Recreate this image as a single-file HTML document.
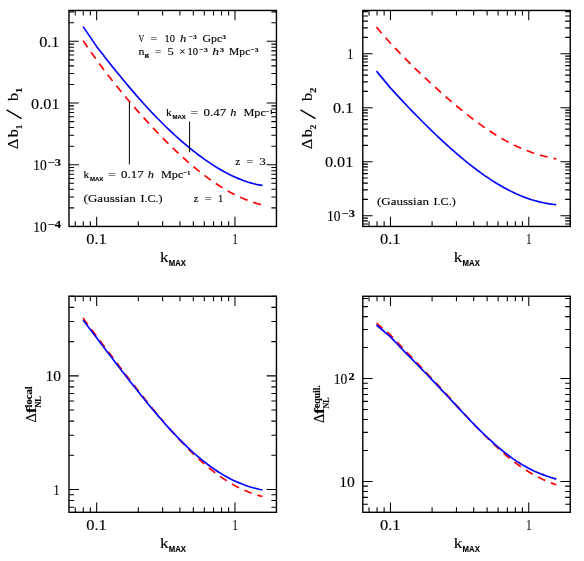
<!DOCTYPE html>
<html><head><meta charset="utf-8"><title>chart</title>
<style>html,body{margin:0;padding:0;background:#fff;}svg{display:block;font-family:"Liberation Serif", serif;fill:#000;will-change:transform}text{stroke:#000;stroke-width:0.12px}</style></head>
<body><svg width="584" height="561" viewBox="0 0 584 561">
<rect width="584" height="561" fill="#fff"/>
<path d="M75.24 226.45L75.24 221.35M75.24 10.45L75.24 15.55M83.26 226.45L83.26 221.35M83.26 10.45L83.26 15.55M90.33 226.45L90.33 221.35M90.33 10.45L90.33 15.55M96.66 226.45L96.66 216.65M96.66 10.45L96.66 20.25M138.29 226.45L138.29 221.35M138.29 10.45L138.29 15.55M162.65 226.45L162.65 221.35M162.65 10.45L162.65 15.55M179.92 226.45L179.92 221.35M179.92 10.45L179.92 15.55M193.33 226.45L193.33 221.35M193.33 10.45L193.33 15.55M204.28 226.45L204.28 221.35M204.28 10.45L204.28 15.55M213.54 226.45L213.54 221.35M213.54 10.45L213.54 15.55M221.56 226.45L221.56 221.35M221.56 10.45L221.56 15.55M228.63 226.45L228.63 221.35M228.63 10.45L228.63 15.55M234.96 226.45L234.96 216.65M234.96 10.45L234.96 20.25M69.00 226.45L78.80 226.45M276.45 226.45L266.65 226.45M69.00 207.87L74.10 207.87M276.45 207.87L271.35 207.87M69.00 197.00L74.10 197.00M276.45 197.00L271.35 197.00M69.00 189.29L74.10 189.29M276.45 189.29L271.35 189.29M69.00 183.31L74.10 183.31M276.45 183.31L271.35 183.31M69.00 178.43L74.10 178.43M276.45 178.43L271.35 178.43M69.00 174.30L74.10 174.30M276.45 174.30L271.35 174.30M69.00 170.72L74.10 170.72M276.45 170.72L271.35 170.72M69.00 167.56L74.10 167.56M276.45 167.56L271.35 167.56M69.00 164.74L78.80 164.74M276.45 164.74L266.65 164.74M69.00 146.16L74.10 146.16M276.45 146.16L271.35 146.16M69.00 135.29L74.10 135.29M276.45 135.29L271.35 135.29M69.00 127.58L74.10 127.58M276.45 127.58L271.35 127.58M69.00 121.60L74.10 121.60M276.45 121.60L271.35 121.60M69.00 116.71L74.10 116.71M276.45 116.71L271.35 116.71M69.00 112.58L74.10 112.58M276.45 112.58L271.35 112.58M69.00 109.00L74.10 109.00M276.45 109.00L271.35 109.00M69.00 105.85L74.10 105.85M276.45 105.85L271.35 105.85M69.00 103.02L78.80 103.02M276.45 103.02L266.65 103.02M69.00 84.44L74.10 84.44M276.45 84.44L271.35 84.44M69.00 73.58L74.10 73.58M276.45 73.58L271.35 73.58M69.00 65.87L74.10 65.87M276.45 65.87L271.35 65.87M69.00 59.88L74.10 59.88M276.45 59.88L271.35 59.88M69.00 55.00L74.10 55.00M276.45 55.00L271.35 55.00M69.00 50.87L74.10 50.87M276.45 50.87L271.35 50.87M69.00 47.29L74.10 47.29M276.45 47.29L271.35 47.29M69.00 44.13L74.10 44.13M276.45 44.13L271.35 44.13M69.00 41.31L78.80 41.31M276.45 41.31L266.65 41.31M69.00 22.73L74.10 22.73M276.45 22.73L271.35 22.73M69.00 11.86L74.10 11.86M276.45 11.86L271.35 11.86" stroke="#000" stroke-width="1.05" fill="none"/>
<rect x="69.00" y="10.45" width="207.45" height="216.00" fill="none" stroke="#000" stroke-width="1.4"/>
<path d="M369.04 226.45L369.04 221.35M369.04 10.45L369.04 15.55M377.06 226.45L377.06 221.35M377.06 10.45L377.06 15.55M384.13 226.45L384.13 221.35M384.13 10.45L384.13 15.55M390.46 226.45L390.46 216.65M390.46 10.45L390.46 20.25M432.09 226.45L432.09 221.35M432.09 10.45L432.09 15.55M456.45 226.45L456.45 221.35M456.45 10.45L456.45 15.55M473.72 226.45L473.72 221.35M473.72 10.45L473.72 15.55M487.13 226.45L487.13 221.35M487.13 10.45L487.13 15.55M498.08 226.45L498.08 221.35M498.08 10.45L498.08 15.55M507.34 226.45L507.34 221.35M507.34 10.45L507.34 15.55M515.36 226.45L515.36 221.35M515.36 10.45L515.36 15.55M522.43 226.45L522.43 221.35M522.43 10.45L522.43 15.55M528.76 226.45L528.76 216.65M528.76 10.45L528.76 20.25M362.80 224.01L367.90 224.01M570.25 224.01L565.15 224.01M362.80 220.88L367.90 220.88M570.25 220.88L565.15 220.88M362.80 218.12L367.90 218.12M570.25 218.12L565.15 218.12M362.80 215.65L372.60 215.65M570.25 215.65L560.45 215.65M362.80 199.39L367.90 199.39M570.25 199.39L565.15 199.39M362.80 189.89L367.90 189.89M570.25 189.89L565.15 189.89M362.80 183.14L367.90 183.14M570.25 183.14L565.15 183.14M362.80 177.91L367.90 177.91M570.25 177.91L565.15 177.91M362.80 173.63L367.90 173.63M570.25 173.63L565.15 173.63M362.80 170.01L367.90 170.01M570.25 170.01L565.15 170.01M362.80 166.88L367.90 166.88M570.25 166.88L565.15 166.88M362.80 164.12L367.90 164.12M570.25 164.12L565.15 164.12M362.80 161.65L372.60 161.65M570.25 161.65L560.45 161.65M362.80 145.39L367.90 145.39M570.25 145.39L565.15 145.39M362.80 135.89L367.90 135.89M570.25 135.89L565.15 135.89M362.80 129.14L367.90 129.14M570.25 129.14L565.15 129.14M362.80 123.91L367.90 123.91M570.25 123.91L565.15 123.91M362.80 119.63L367.90 119.63M570.25 119.63L565.15 119.63M362.80 116.01L367.90 116.01M570.25 116.01L565.15 116.01M362.80 112.88L367.90 112.88M570.25 112.88L565.15 112.88M362.80 110.12L367.90 110.12M570.25 110.12L565.15 110.12M362.80 107.65L372.60 107.65M570.25 107.65L560.45 107.65M362.80 91.39L367.90 91.39M570.25 91.39L565.15 91.39M362.80 81.89L367.90 81.89M570.25 81.89L565.15 81.89M362.80 75.14L367.90 75.14M570.25 75.14L565.15 75.14M362.80 69.91L367.90 69.91M570.25 69.91L565.15 69.91M362.80 65.63L367.90 65.63M570.25 65.63L565.15 65.63M362.80 62.01L367.90 62.01M570.25 62.01L565.15 62.01M362.80 58.88L367.90 58.88M570.25 58.88L565.15 58.88M362.80 56.12L367.90 56.12M570.25 56.12L565.15 56.12M362.80 53.65L372.60 53.65M570.25 53.65L560.45 53.65M362.80 37.39L367.90 37.39M570.25 37.39L565.15 37.39M362.80 27.89L367.90 27.89M570.25 27.89L565.15 27.89M362.80 21.14L367.90 21.14M570.25 21.14L565.15 21.14M362.80 15.91L367.90 15.91M570.25 15.91L565.15 15.91M362.80 11.63L367.90 11.63M570.25 11.63L565.15 11.63" stroke="#000" stroke-width="1.05" fill="none"/>
<rect x="362.80" y="10.45" width="207.45" height="216.00" fill="none" stroke="#000" stroke-width="1.4"/>
<path d="M75.24 512.30L75.24 507.20M75.24 296.25L75.24 301.35M83.26 512.30L83.26 507.20M83.26 296.25L83.26 301.35M90.33 512.30L90.33 507.20M90.33 296.25L90.33 301.35M96.66 512.30L96.66 502.50M96.66 296.25L96.66 306.05M138.29 512.30L138.29 507.20M138.29 296.25L138.29 301.35M162.65 512.30L162.65 507.20M162.65 296.25L162.65 301.35M179.92 512.30L179.92 507.20M179.92 296.25L179.92 301.35M193.33 512.30L193.33 507.20M193.33 296.25L193.33 301.35M204.28 512.30L204.28 507.20M204.28 296.25L204.28 301.35M213.54 512.30L213.54 507.20M213.54 296.25L213.54 301.35M221.56 512.30L221.56 507.20M221.56 296.25L221.56 301.35M228.63 512.30L228.63 507.20M228.63 296.25L228.63 301.35M234.96 512.30L234.96 502.50M234.96 296.25L234.96 306.05M69.00 507.17L74.10 507.17M276.45 507.17L271.35 507.17M69.00 500.58L74.10 500.58M276.45 500.58L271.35 500.58M69.00 494.76L74.10 494.76M276.45 494.76L271.35 494.76M69.00 489.56L78.80 489.56M276.45 489.56L266.65 489.56M69.00 455.33L74.10 455.33M276.45 455.33L271.35 455.33M69.00 435.30L74.10 435.30M276.45 435.30L271.35 435.30M69.00 421.10L74.10 421.10M276.45 421.10L271.35 421.10M69.00 410.08L74.10 410.08M276.45 410.08L271.35 410.08M69.00 401.07L74.10 401.07M276.45 401.07L271.35 401.07M69.00 393.46L74.10 393.46M276.45 393.46L271.35 393.46M69.00 386.87L74.10 386.87M276.45 386.87L271.35 386.87M69.00 381.05L74.10 381.05M276.45 381.05L271.35 381.05M69.00 375.85L78.80 375.85M276.45 375.85L266.65 375.85M69.00 341.62L74.10 341.62M276.45 341.62L271.35 341.62M69.00 321.59L74.10 321.59M276.45 321.59L271.35 321.59M69.00 307.39L74.10 307.39M276.45 307.39L271.35 307.39M69.00 296.37L74.10 296.37M276.45 296.37L271.35 296.37" stroke="#000" stroke-width="1.05" fill="none"/>
<rect x="69.00" y="296.25" width="207.45" height="216.05" fill="none" stroke="#000" stroke-width="1.4"/>
<path d="M369.04 512.30L369.04 507.20M369.04 296.25L369.04 301.35M377.06 512.30L377.06 507.20M377.06 296.25L377.06 301.35M384.13 512.30L384.13 507.20M384.13 296.25L384.13 301.35M390.46 512.30L390.46 502.50M390.46 296.25L390.46 306.05M432.09 512.30L432.09 507.20M432.09 296.25L432.09 301.35M456.45 512.30L456.45 507.20M456.45 296.25L456.45 301.35M473.72 512.30L473.72 507.20M473.72 296.25L473.72 301.35M487.13 512.30L487.13 507.20M487.13 296.25L487.13 301.35M498.08 512.30L498.08 507.20M498.08 296.25L498.08 301.35M507.34 512.30L507.34 507.20M507.34 296.25L507.34 301.35M515.36 512.30L515.36 507.20M515.36 296.25L515.36 301.35M522.43 512.30L522.43 507.20M522.43 296.25L522.43 301.35M528.76 512.30L528.76 502.50M528.76 296.25L528.76 306.05M362.80 504.26L367.90 504.26M570.25 504.26L565.15 504.26M362.80 497.37L367.90 497.37M570.25 497.37L565.15 497.37M362.80 491.41L367.90 491.41M570.25 491.41L565.15 491.41M362.80 486.14L367.90 486.14M570.25 486.14L565.15 486.14M362.80 481.44L372.60 481.44M570.25 481.44L560.45 481.44M362.80 450.47L367.90 450.47M570.25 450.47L565.15 450.47M362.80 432.35L367.90 432.35M570.25 432.35L565.15 432.35M362.80 419.50L367.90 419.50M570.25 419.50L565.15 419.50M362.80 409.53L367.90 409.53M570.25 409.53L565.15 409.53M362.80 401.38L367.90 401.38M570.25 401.38L565.15 401.38M362.80 394.49L367.90 394.49M570.25 394.49L565.15 394.49M362.80 388.52L367.90 388.52M570.25 388.52L565.15 388.52M362.80 383.26L367.90 383.26M570.25 383.26L565.15 383.26M362.80 378.55L372.60 378.55M570.25 378.55L560.45 378.55M362.80 347.58L367.90 347.58M570.25 347.58L565.15 347.58M362.80 329.47L367.90 329.47M570.25 329.47L565.15 329.47M362.80 316.61L367.90 316.61M570.25 316.61L565.15 316.61M362.80 306.64L367.90 306.64M570.25 306.64L565.15 306.64M362.80 298.50L367.90 298.50M570.25 298.50L565.15 298.50" stroke="#000" stroke-width="1.05" fill="none"/>
<rect x="362.80" y="296.25" width="207.45" height="216.05" fill="none" stroke="#000" stroke-width="1.4"/>
<path d="M83.10 40.60 L86.10 45.04 L89.10 49.40 L92.10 53.67 L95.10 57.86 L98.10 61.98 L101.10 66.03 L104.10 70.02 L107.10 73.95 L110.10 77.81 L113.10 81.62 L116.10 85.38 L119.10 89.09 L122.10 92.74 L125.10 96.35 L128.10 99.92 L131.10 103.44 L134.10 106.92 L137.10 110.35 L140.10 113.74 L143.10 117.10 L146.10 120.40 L149.10 123.67 L152.10 126.90 L155.10 130.08 L158.10 133.22 L161.10 136.31 L164.10 139.36 L167.10 142.37 L170.10 145.33 L173.10 148.24 L176.10 151.09 L179.10 153.90 L182.10 156.66 L185.10 159.36 L188.10 162.01 L191.10 164.59 L194.10 167.12 L197.10 169.59 L200.10 171.99 L203.10 174.33 L206.10 176.61 L209.10 178.81 L212.10 180.95 L215.10 183.01 L218.10 185.00 L221.10 186.91 L224.10 188.75 L227.10 190.51 L230.10 192.19 L233.10 193.79 L236.10 195.31 L239.10 196.74 L242.10 198.09 L245.10 199.36 L248.10 200.54 L251.10 201.63 L254.10 202.64 L257.10 203.56 L260.10 204.39 L262.50 205.00" stroke="#ff0000" stroke-width="1.65" fill="none" stroke-linejoin="round" stroke-dasharray="8 6"/>
<path d="M83.10 26.60 L96.90 46.90 L99.90 50.75 L102.90 54.59 L105.90 58.41 L108.90 62.20 L111.90 65.97 L114.90 69.70 L117.90 73.41 L120.90 77.08 L123.90 80.71 L126.90 84.31 L129.90 87.86 L132.90 91.37 L135.90 94.84 L138.90 98.26 L141.90 101.63 L144.90 104.95 L147.90 108.22 L150.90 111.44 L153.90 114.61 L156.90 117.73 L159.90 120.79 L162.90 123.79 L165.90 126.74 L168.90 129.63 L171.90 132.46 L174.90 135.24 L177.90 137.95 L180.90 140.61 L183.90 143.20 L186.90 145.73 L189.90 148.21 L192.90 150.61 L195.90 152.96 L198.90 155.24 L201.90 157.45 L204.90 159.60 L207.90 161.67 L210.90 163.68 L213.90 165.62 L216.90 167.49 L219.90 169.28 L222.90 170.99 L225.90 172.63 L228.90 174.19 L231.90 175.67 L234.90 177.06 L237.90 178.37 L240.90 179.58 L243.90 180.71 L246.90 181.74 L249.90 182.67 L252.90 183.49 L255.90 184.21 L258.90 184.82 L261.90 185.32 L262.50 185.40" stroke="#0000ff" stroke-width="1.65" fill="none" stroke-linejoin="round" />
<path d="M376.50 27.10 L379.50 30.70 L382.50 34.20 L385.50 37.63 L388.50 40.99 L391.50 44.28 L394.50 47.50 L397.50 50.68 L400.50 53.80 L403.50 56.88 L406.50 59.91 L409.50 62.91 L412.50 65.87 L415.50 68.80 L418.50 71.69 L421.50 74.56 L424.50 77.40 L427.50 80.21 L430.50 82.99 L433.50 85.75 L436.50 88.47 L439.50 91.18 L442.50 93.85 L445.50 96.49 L448.50 99.11 L451.50 101.69 L454.50 104.24 L457.50 106.75 L460.50 109.23 L463.50 111.67 L466.50 114.07 L469.50 116.42 L472.50 118.73 L475.50 121.00 L478.50 123.21 L481.50 125.38 L484.50 127.49 L487.50 129.54 L490.50 131.54 L493.50 133.48 L496.50 135.36 L499.50 137.17 L502.50 138.92 L505.50 140.60 L508.50 142.22 L511.50 143.77 L514.50 145.25 L517.50 146.66 L520.50 148.00 L523.50 149.27 L526.50 150.47 L529.50 151.60 L532.50 152.67 L535.50 153.67 L538.50 154.60 L541.50 155.48 L544.50 156.30 L547.50 157.06 L550.50 157.76 L553.50 158.42 L556.30 159.00" stroke="#ff0000" stroke-width="1.65" fill="none" stroke-linejoin="round" stroke-dasharray="8 6"/>
<path d="M376.50 71.10 L390.60 88.10 L393.60 91.40 L396.60 94.67 L399.60 97.91 L402.60 101.12 L405.60 104.30 L408.60 107.45 L411.60 110.57 L414.60 113.67 L417.60 116.73 L420.60 119.77 L423.60 122.78 L426.60 125.75 L429.60 128.70 L432.60 131.61 L435.60 134.49 L438.60 137.33 L441.60 140.14 L444.60 142.91 L447.60 145.64 L450.60 148.33 L453.60 150.98 L456.60 153.59 L459.60 156.15 L462.60 158.67 L465.60 161.13 L468.60 163.55 L471.60 165.91 L474.60 168.22 L477.60 170.48 L480.60 172.68 L483.60 174.81 L486.60 176.89 L489.60 178.91 L492.60 180.86 L495.60 182.74 L498.60 184.56 L501.60 186.30 L504.60 187.98 L507.60 189.58 L510.60 191.11 L513.60 192.57 L516.60 193.95 L519.60 195.25 L522.60 196.47 L525.60 197.62 L528.60 198.68 L531.60 199.67 L534.60 200.57 L537.60 201.39 L540.60 202.14 L543.60 202.80 L546.60 203.38 L549.60 203.87 L552.60 204.29 L555.60 204.63 L556.30 204.70" stroke="#0000ff" stroke-width="1.65" fill="none" stroke-linejoin="round" />
<path d="M83.10 318.10 L86.10 322.15 L89.10 326.18 L92.10 330.19 L95.10 334.20 L98.10 338.20 L101.10 342.18 L104.10 346.16 L107.10 350.13 L110.10 354.09 L113.10 358.05 L116.10 361.99 L119.10 365.92 L122.10 369.84 L125.10 373.75 L128.10 377.64 L131.10 381.52 L134.10 385.37 L137.10 389.21 L140.10 393.03 L143.10 396.82 L146.10 400.58 L149.10 404.31 L152.10 408.01 L155.10 411.67 L158.10 415.29 L161.10 418.88 L164.10 422.41 L167.10 425.90 L170.10 429.34 L173.10 432.72 L176.10 436.05 L179.10 439.32 L182.10 442.52 L185.10 445.65 L188.10 448.72 L191.10 451.71 L194.10 454.63 L197.10 457.47 L200.10 460.23 L203.10 462.91 L206.10 465.50 L209.10 468.00 L212.10 470.41 L215.10 472.74 L218.10 474.96 L221.10 477.09 L224.10 479.13 L227.10 481.07 L230.10 482.91 L233.10 484.65 L236.10 486.29 L239.10 487.83 L242.10 489.27 L245.10 490.61 L248.10 491.85 L251.10 493.00 L254.10 494.05 L257.10 495.01 L260.10 495.87 L262.50 496.50" stroke="#ff0000" stroke-width="1.65" fill="none" stroke-linejoin="round" stroke-dasharray="8 6"/>
<path d="M83.10 320.00 L86.10 323.97 L89.10 327.93 L92.10 331.89 L95.10 335.85 L98.10 339.81 L101.10 343.76 L104.10 347.70 L107.10 351.64 L110.10 355.57 L113.10 359.50 L116.10 363.41 L119.10 367.31 L122.10 371.20 L125.10 375.08 L128.10 378.93 L131.10 382.76 L134.10 386.57 L137.10 390.35 L140.10 394.11 L143.10 397.83 L146.10 401.52 L149.10 405.17 L152.10 408.77 L155.10 412.34 L158.10 415.86 L161.10 419.32 L164.10 422.73 L167.10 426.09 L170.10 429.39 L173.10 432.62 L176.10 435.78 L179.10 438.88 L182.10 441.91 L185.10 444.86 L188.10 447.73 L191.10 450.53 L194.10 453.24 L197.10 455.86 L200.10 458.40 L203.10 460.85 L206.10 463.21 L209.10 465.48 L212.10 467.65 L215.10 469.73 L218.10 471.71 L221.10 473.60 L224.10 475.39 L227.10 477.08 L230.10 478.67 L233.10 480.17 L236.10 481.57 L239.10 482.88 L242.10 484.09 L245.10 485.21 L248.10 486.23 L251.10 487.17 L254.10 488.03 L257.10 488.80 L260.10 489.50 L262.50 490.00" stroke="#0000ff" stroke-width="1.65" fill="none" stroke-linejoin="round" />
<path d="M376.50 323.10 L390.50 335.00 L393.50 338.27 L396.50 341.48 L399.50 344.65 L402.50 347.80 L405.50 350.92 L408.50 354.04 L411.50 357.15 L414.50 360.26 L417.50 363.37 L420.50 366.50 L423.50 369.64 L426.50 372.79 L429.50 375.97 L432.50 379.16 L435.50 382.37 L438.50 385.59 L441.50 388.83 L444.50 392.09 L447.50 395.36 L450.50 398.64 L453.50 401.92 L456.50 405.21 L459.50 408.49 L462.50 411.76 L465.50 415.03 L468.50 418.27 L471.50 421.50 L474.50 424.70 L477.50 427.86 L480.50 430.99 L483.50 434.07 L486.50 437.10 L489.50 440.08 L492.50 442.99 L495.50 445.84 L498.50 448.62 L501.50 451.33 L504.50 453.95 L507.50 456.50 L510.50 458.95 L513.50 461.31 L516.50 463.58 L519.50 465.76 L522.50 467.84 L525.50 469.81 L528.50 471.69 L531.50 473.48 L534.50 475.16 L537.50 476.75 L540.50 478.24 L543.50 479.65 L546.50 480.96 L549.50 482.20 L552.50 483.37 L555.50 484.47 L556.30 484.75" stroke="#ff0000" stroke-width="1.65" fill="none" stroke-linejoin="round" stroke-dasharray="8 6"/>
<path d="M376.50 325.00 L390.50 336.90 L393.50 340.11 L396.50 343.27 L399.50 346.39 L402.50 349.48 L405.50 352.55 L408.50 355.61 L411.50 358.67 L414.50 361.72 L417.50 364.79 L420.50 367.86 L423.50 370.95 L426.50 374.05 L429.50 377.17 L432.50 380.31 L435.50 383.47 L438.50 386.64 L441.50 389.83 L444.50 393.03 L447.50 396.24 L450.50 399.45 L453.50 402.67 L456.50 405.88 L459.50 409.09 L462.50 412.28 L465.50 415.45 L468.50 418.60 L471.50 421.72 L474.50 424.80 L477.50 427.84 L480.50 430.84 L483.50 433.78 L486.50 436.66 L489.50 439.47 L492.50 442.22 L495.50 444.89 L498.50 447.48 L501.50 449.98 L504.50 452.40 L507.50 454.72 L510.50 456.94 L513.50 459.07 L516.50 461.10 L519.50 463.02 L522.50 464.85 L525.50 466.57 L528.50 468.19 L531.50 469.71 L534.50 471.13 L537.50 472.46 L540.50 473.71 L543.50 474.87 L546.50 475.96 L549.50 476.98 L552.50 477.94 L555.50 478.86 L556.30 479.10" stroke="#0000ff" stroke-width="1.65" fill="none" stroke-linejoin="round" />
<text x="86.16" y="244.05" font-size="14.0" textLength="20.60" lengthAdjust="spacingAndGlyphs" >0.1</text>
<text x="232.46" y="244.05" font-size="14.0" textLength="5.20" lengthAdjust="spacingAndGlyphs" >1</text>
<text x="159.92" y="261.95" font-size="14.8" textLength="8.60" lengthAdjust="spacingAndGlyphs" stroke-width="0.5">k</text>
<text x="168.82" y="265.75" font-size="8.3" textLength="17.20" lengthAdjust="spacingAndGlyphs" font-family="Liberation Sans, sans-serif" font-weight="bold">MAX</text>
<text x="379.96" y="244.05" font-size="14.0" textLength="20.60" lengthAdjust="spacingAndGlyphs" >0.1</text>
<text x="526.26" y="244.05" font-size="14.0" textLength="5.20" lengthAdjust="spacingAndGlyphs" >1</text>
<text x="453.72" y="261.95" font-size="14.8" textLength="8.60" lengthAdjust="spacingAndGlyphs" stroke-width="0.5">k</text>
<text x="462.62" y="265.75" font-size="8.3" textLength="17.20" lengthAdjust="spacingAndGlyphs" font-family="Liberation Sans, sans-serif" font-weight="bold">MAX</text>
<text x="86.16" y="529.90" font-size="14.0" textLength="20.60" lengthAdjust="spacingAndGlyphs" >0.1</text>
<text x="232.46" y="529.90" font-size="14.0" textLength="5.20" lengthAdjust="spacingAndGlyphs" >1</text>
<text x="159.92" y="547.80" font-size="14.8" textLength="8.60" lengthAdjust="spacingAndGlyphs" stroke-width="0.5">k</text>
<text x="168.82" y="551.60" font-size="8.3" textLength="17.20" lengthAdjust="spacingAndGlyphs" font-family="Liberation Sans, sans-serif" font-weight="bold">MAX</text>
<text x="379.96" y="529.90" font-size="14.0" textLength="20.60" lengthAdjust="spacingAndGlyphs" >0.1</text>
<text x="526.26" y="529.90" font-size="14.0" textLength="5.20" lengthAdjust="spacingAndGlyphs" >1</text>
<text x="453.72" y="547.80" font-size="14.8" textLength="8.60" lengthAdjust="spacingAndGlyphs" stroke-width="0.5">k</text>
<text x="462.62" y="551.60" font-size="8.3" textLength="17.20" lengthAdjust="spacingAndGlyphs" font-family="Liberation Sans, sans-serif" font-weight="bold">MAX</text>
<text x="39.20" y="46.91" font-size="14.0" textLength="20.30" lengthAdjust="spacingAndGlyphs" >0.1</text>
<text x="31.10" y="108.62" font-size="14.0" textLength="28.40" lengthAdjust="spacingAndGlyphs" >0.01</text>
<text x="33.20" y="170.44" font-size="14.0" textLength="13.50" lengthAdjust="spacingAndGlyphs" >10</text>
<text x="47.70" y="166.04" font-size="9.4" textLength="13.40" lengthAdjust="spacingAndGlyphs" font-weight="bold">&#8722;3</text>
<text x="33.20" y="232.15" font-size="14.0" textLength="13.50" lengthAdjust="spacingAndGlyphs" >10</text>
<text x="47.70" y="227.75" font-size="9.4" textLength="13.40" lengthAdjust="spacingAndGlyphs" font-weight="bold">&#8722;4</text>
<text x="347.30" y="59.25" font-size="14.0" textLength="6.00" lengthAdjust="spacingAndGlyphs" >1</text>
<text x="333.00" y="113.25" font-size="14.0" textLength="20.30" lengthAdjust="spacingAndGlyphs" >0.1</text>
<text x="324.90" y="167.25" font-size="14.0" textLength="28.40" lengthAdjust="spacingAndGlyphs" >0.01</text>
<text x="327.00" y="221.35" font-size="14.0" textLength="13.50" lengthAdjust="spacingAndGlyphs" >10</text>
<text x="341.50" y="216.95" font-size="9.4" textLength="13.40" lengthAdjust="spacingAndGlyphs" font-weight="bold">&#8722;3</text>
<text x="45.40" y="381.45" font-size="14.0" textLength="15.60" lengthAdjust="spacingAndGlyphs" >10</text>
<text x="53.50" y="495.16" font-size="14.0" textLength="6.00" lengthAdjust="spacingAndGlyphs" >1</text>
<text x="333.70" y="384.25" font-size="14.0" textLength="13.60" lengthAdjust="spacingAndGlyphs" >10</text>
<text x="348.50" y="379.85" font-size="9.6" textLength="6.10" lengthAdjust="spacingAndGlyphs" font-weight="bold">2</text>
<text x="339.20" y="487.04" font-size="14.0" textLength="15.60" lengthAdjust="spacingAndGlyphs" >10</text>
<text x="138.40" y="41.70" font-size="10.8" textLength="5.70" lengthAdjust="spacingAndGlyphs" >V</text>
<text x="150.60" y="41.70" font-size="10.8" textLength="6.80" lengthAdjust="spacingAndGlyphs" >=</text>
<text x="164.50" y="41.70" font-size="10.8" textLength="10.40" lengthAdjust="spacingAndGlyphs" >10</text>
<text x="179.90" y="41.70" font-size="10.8" textLength="6.30" lengthAdjust="spacingAndGlyphs" font-style="italic">h</text>
<text x="188.70" y="39.10" font-size="7.0" textLength="8.10" lengthAdjust="spacingAndGlyphs" font-weight="bold">&#8722;3</text>
<text x="202.50" y="41.70" font-size="10.8" textLength="19.70" lengthAdjust="spacingAndGlyphs" >Gpc</text>
<text x="222.20" y="39.10" font-size="7.0" textLength="3.80" lengthAdjust="spacingAndGlyphs" font-weight="bold">3</text>
<text x="138.40" y="54.50" font-size="10.8" textLength="5.90" lengthAdjust="spacingAndGlyphs" >n</text>
<text x="144.50" y="56.70" font-size="6.4" textLength="4.60" lengthAdjust="spacingAndGlyphs" font-weight="bold">g</text>
<text x="154.90" y="54.50" font-size="10.8" textLength="6.30" lengthAdjust="spacingAndGlyphs" >=</text>
<text x="167.50" y="54.50" font-size="10.8" textLength="6.20" lengthAdjust="spacingAndGlyphs" >5</text>
<text x="179.30" y="54.50" font-size="10.8" textLength="6.30" lengthAdjust="spacingAndGlyphs" >&#215;</text>
<text x="187.60" y="54.50" font-size="10.8" textLength="10.50" lengthAdjust="spacingAndGlyphs" >10</text>
<text x="199.20" y="51.90" font-size="7.0" textLength="8.60" lengthAdjust="spacingAndGlyphs" font-weight="bold">&#8722;3</text>
<text x="212.20" y="54.50" font-size="10.8" textLength="6.80" lengthAdjust="spacingAndGlyphs" font-style="italic">h</text>
<text x="219.70" y="51.90" font-size="7.0" textLength="4.30" lengthAdjust="spacingAndGlyphs" font-weight="bold">3</text>
<text x="229.10" y="54.50" font-size="10.8" textLength="21.20" lengthAdjust="spacingAndGlyphs" >Mpc</text>
<text x="250.40" y="51.90" font-size="7.0" textLength="8.00" lengthAdjust="spacingAndGlyphs" font-weight="bold">&#8722;3</text>
<text x="165.90" y="116.20" font-size="10.8" textLength="5.70" lengthAdjust="spacingAndGlyphs" >k</text>
<text x="172.40" y="119.10" font-size="6.0" textLength="13.40" lengthAdjust="spacingAndGlyphs" font-family="Liberation Sans, sans-serif" font-weight="bold">MAX</text>
<text x="190.50" y="116.20" font-size="10.8" textLength="7.80" lengthAdjust="spacingAndGlyphs" >=</text>
<text x="203.50" y="116.20" font-size="10.8" textLength="22.60" lengthAdjust="spacingAndGlyphs" >0.47</text>
<text x="230.30" y="116.20" font-size="10.8" textLength="6.20" lengthAdjust="spacingAndGlyphs" font-style="italic">h</text>
<text x="243.40" y="116.20" font-size="10.8" textLength="22.50" lengthAdjust="spacingAndGlyphs" >Mpc</text>
<text x="266.10" y="113.60" font-size="7.0" textLength="6.80" lengthAdjust="spacingAndGlyphs" font-weight="bold">&#8722;1</text>
<text x="83.40" y="177.90" font-size="10.8" textLength="5.70" lengthAdjust="spacingAndGlyphs" >k</text>
<text x="89.90" y="180.80" font-size="6.0" textLength="13.40" lengthAdjust="spacingAndGlyphs" font-family="Liberation Sans, sans-serif" font-weight="bold">MAX</text>
<text x="108.00" y="177.90" font-size="10.8" textLength="7.80" lengthAdjust="spacingAndGlyphs" >=</text>
<text x="121.00" y="177.90" font-size="10.8" textLength="22.60" lengthAdjust="spacingAndGlyphs" >0.17</text>
<text x="147.80" y="177.90" font-size="10.8" textLength="6.20" lengthAdjust="spacingAndGlyphs" font-style="italic">h</text>
<text x="160.90" y="177.90" font-size="10.8" textLength="22.50" lengthAdjust="spacingAndGlyphs" >Mpc</text>
<text x="183.60" y="175.30" font-size="7.0" textLength="6.80" lengthAdjust="spacingAndGlyphs" font-weight="bold">&#8722;1</text>
<text x="83.60" y="202.30" font-size="10.8" textLength="52.20" lengthAdjust="spacingAndGlyphs" >(Gaussian</text>
<text x="140.40" y="202.30" font-size="10.8" textLength="22.10" lengthAdjust="spacingAndGlyphs" >I.C.)</text>
<text x="235.30" y="165.20" font-size="10.8" textLength="5.00" lengthAdjust="spacingAndGlyphs" >z</text>
<text x="246.60" y="165.20" font-size="10.8" textLength="6.80" lengthAdjust="spacingAndGlyphs" >=</text>
<text x="259.30" y="165.20" font-size="10.8" textLength="6.60" lengthAdjust="spacingAndGlyphs" >3</text>
<text x="193.50" y="202.40" font-size="10.8" textLength="5.00" lengthAdjust="spacingAndGlyphs" >z</text>
<text x="204.70" y="202.40" font-size="10.8" textLength="6.80" lengthAdjust="spacingAndGlyphs" >=</text>
<text x="218.00" y="202.40" font-size="10.8" textLength="5.30" lengthAdjust="spacingAndGlyphs" >1</text>
<path d="M129.4 102.2V164.4M189.6 121.5V152.2" stroke="#000" stroke-width="1" fill="none"/>
<text x="376.90" y="205.30" font-size="10.8" textLength="52.10" lengthAdjust="spacingAndGlyphs" >(Gaussian</text>
<text x="433.60" y="205.30" font-size="10.8" textLength="22.10" lengthAdjust="spacingAndGlyphs" >I.C.)</text>
<text transform="translate(18.30 149.10) rotate(-90)" x="0" y="0" font-size="15.5" textLength="10.30" lengthAdjust="spacingAndGlyphs" stroke-width="0.6">&#916;</text>
<text transform="translate(18.30 137.30) rotate(-90)" x="0" y="0" font-size="15.5" textLength="8.10" lengthAdjust="spacingAndGlyphs" stroke-width="0.6">b</text>
<text transform="translate(22.30 129.20) rotate(-90)" x="0" y="0" font-size="8.5" textLength="4.50" lengthAdjust="spacingAndGlyphs" font-weight="bold">1</text>
<path d="M21.60 118.6L6.60 109.8" stroke="#000" stroke-width="1.35" fill="none"/>
<text transform="translate(18.30 100.90) rotate(-90)" x="0" y="0" font-size="15.5" textLength="8.00" lengthAdjust="spacingAndGlyphs" stroke-width="0.6">b</text>
<text transform="translate(22.30 92.90) rotate(-90)" x="0" y="0" font-size="8.5" textLength="5.40" lengthAdjust="spacingAndGlyphs" font-weight="bold">1</text>
<text transform="translate(312.20 149.10) rotate(-90)" x="0" y="0" font-size="15.5" textLength="10.30" lengthAdjust="spacingAndGlyphs" stroke-width="0.6">&#916;</text>
<text transform="translate(312.20 137.30) rotate(-90)" x="0" y="0" font-size="15.5" textLength="8.10" lengthAdjust="spacingAndGlyphs" stroke-width="0.6">b</text>
<text transform="translate(316.20 129.20) rotate(-90)" x="0" y="0" font-size="8.5" textLength="4.50" lengthAdjust="spacingAndGlyphs" font-weight="bold">2</text>
<path d="M315.50 118.6L300.50 109.8" stroke="#000" stroke-width="1.35" fill="none"/>
<text transform="translate(312.20 100.90) rotate(-90)" x="0" y="0" font-size="15.5" textLength="8.00" lengthAdjust="spacingAndGlyphs" stroke-width="0.6">b</text>
<text transform="translate(316.20 92.90) rotate(-90)" x="0" y="0" font-size="8.5" textLength="5.40" lengthAdjust="spacingAndGlyphs" font-weight="bold">2</text>
<text transform="translate(35.70 422.40) rotate(-90)" x="0" y="0" font-size="14.2" textLength="9.40" lengthAdjust="spacingAndGlyphs" stroke-width="0.55">&#916;</text>
<text transform="translate(35.70 413.20) rotate(-90)" x="0" y="0" font-size="14.8" textLength="6.10" lengthAdjust="spacingAndGlyphs" font-weight="bold" stroke-width="0.15">f</text>
<text transform="translate(32.10 407.50) rotate(-90)" x="0" y="0" font-size="10.0" textLength="21.10" lengthAdjust="spacingAndGlyphs" font-weight="bold" stroke-width="0.15">local</text>
<text transform="translate(40.50 407.50) rotate(-90)" x="0" y="0" font-size="9.0" textLength="11.30" lengthAdjust="spacingAndGlyphs" font-weight="bold" stroke-width="0.15">NL</text>
<text transform="translate(324.05 423.00) rotate(-90)" x="0" y="0" font-size="14.2" textLength="9.20" lengthAdjust="spacingAndGlyphs" stroke-width="0.55">&#916;</text>
<text transform="translate(324.05 414.00) rotate(-90)" x="0" y="0" font-size="14.8" textLength="6.10" lengthAdjust="spacingAndGlyphs" font-weight="bold" stroke-width="0.15">f</text>
<text transform="translate(319.90 408.10) rotate(-90)" x="0" y="0" font-size="10.0" textLength="23.10" lengthAdjust="spacingAndGlyphs" font-weight="bold" stroke-width="0.15">equil.</text>
<text transform="translate(328.75 408.50) rotate(-90)" x="0" y="0" font-size="9.0" textLength="11.10" lengthAdjust="spacingAndGlyphs" font-weight="bold" stroke-width="0.15">NL</text>
</svg></body></html>
